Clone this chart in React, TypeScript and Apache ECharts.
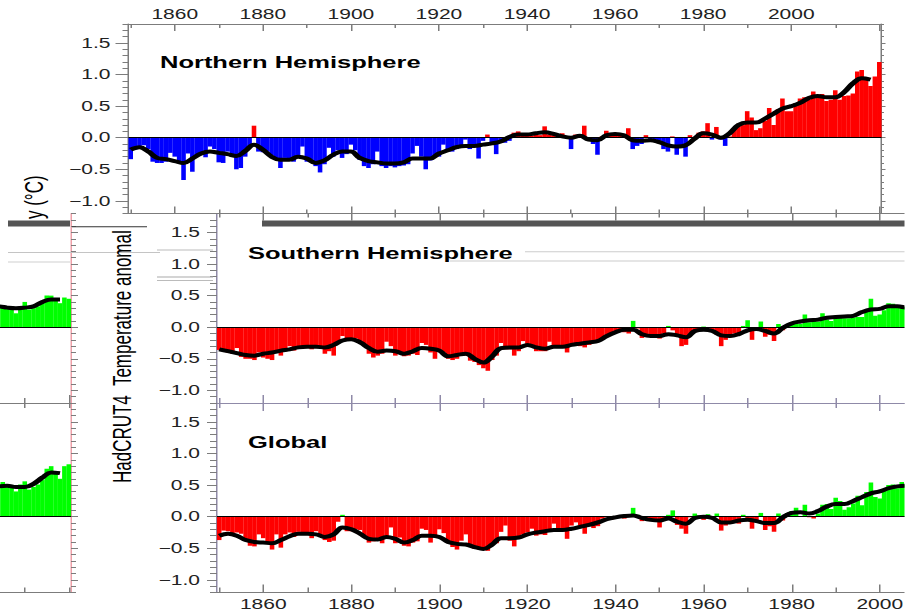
import React, { useEffect, useRef } from "react";
import * as echarts from "echarts";

// ---------- data ----------
const FIRST_YEAR = 1850;
const LAST_YEAR = 2020;
const YEARS: number[] = Array.from({ length: LAST_YEAR - FIRST_YEAR + 1 }, (_, i) => FIRST_YEAR + i);
const SMOOTH_YEARS: number[] = Array.from({ length: 85 }, (_, i) => FIRST_YEAR + 2 * i);

const NH: number[] = [
  -0.34, -0.19, -0.17, -0.12, -0.18, -0.38, -0.40, -0.40, -0.38, -0.24,
  -0.30, -0.40, -0.67, -0.25, -0.54, -0.30, -0.25, -0.31, -0.14, -0.18,
  -0.39, -0.40, -0.22, -0.30, -0.50, -0.48, -0.30, -0.13, 0.19, -0.22,
  -0.23, -0.22, -0.28, -0.35, -0.48, -0.32, -0.33, -0.38, -0.28, -0.14,
  -0.38, -0.35, -0.45, -0.55, -0.42, -0.16, -0.30, -0.20, -0.32, -0.26,
  -0.11, -0.20, -0.35, -0.45, -0.48, -0.42, -0.22, -0.45, -0.48, -0.45,
  -0.47, -0.45, -0.44, -0.42, -0.25, -0.13, -0.30, -0.50, -0.36, -0.30,
  -0.30, -0.11, -0.22, -0.22, -0.18, -0.12, -0.03, -0.18, -0.12, -0.33,
  -0.05, 0.05, -0.10, -0.26, -0.08, -0.08, -0.05, 0.08, 0.10, 0.03,
  0.04, 0.03, 0.05, 0.04, 0.18, 0.05, 0.04, 0.05, 0.07, 0.00,
  -0.18, 0.05, 0.03, 0.19, -0.05, -0.10, -0.27, 0.02, 0.11, 0.05,
  0.04, 0.06, 0.05, 0.15, -0.18, -0.13, -0.10, 0.04, -0.05, -0.03,
  -0.05, -0.18, -0.22, 0.02, -0.27, -0.12, -0.30, 0.04, 0.00, 0.08,
  0.10, 0.23, -0.03, 0.17, -0.03, -0.13, 0.02, 0.15, 0.22, 0.20,
  0.42, 0.32, 0.12, 0.15, 0.27, 0.47, 0.20, 0.45, 0.62, 0.42,
  0.42, 0.55, 0.62, 0.64, 0.60, 0.73, 0.68, 0.69, 0.58, 0.60,
  0.75, 0.60, 0.66, 0.67, 0.70, 1.05, 1.07, 0.93, 0.82, 0.97,
  1.20,
];

const SH: number[] = [
  -0.36, -0.38, -0.40, -0.42, -0.33, -0.47, -0.50, -0.50, -0.52, -0.40,
  -0.48, -0.50, -0.52, -0.38, -0.45, -0.38, -0.30, -0.37, -0.30, -0.33,
  -0.30, -0.35, -0.30, -0.33, -0.42, -0.38, -0.45, -0.22, -0.14, -0.18,
  -0.20, -0.18, -0.22, -0.30, -0.42, -0.48, -0.45, -0.42, -0.23, -0.30,
  -0.45, -0.38, -0.46, -0.45, -0.42, -0.44, -0.25, -0.28, -0.40, -0.50,
  -0.38, -0.40, -0.50, -0.52, -0.50, -0.41, -0.45, -0.53, -0.55, -0.60,
  -0.65, -0.69, -0.52, -0.45, -0.25, -0.35, -0.35, -0.45, -0.38, -0.22,
  -0.30, -0.28, -0.38, -0.38, -0.38, -0.23, -0.30, -0.33, -0.32, -0.40,
  -0.28, -0.26, -0.30, -0.32, -0.28, -0.24, -0.22, -0.18, -0.14, -0.10,
  -0.06, -0.04, -0.08, -0.10, 0.10, -0.02, -0.17, -0.12, -0.12, -0.12,
  -0.18, -0.10, 0.02, -0.05, -0.15, -0.30, -0.28, -0.12, -0.08, -0.05,
  0.01, -0.02, -0.06, -0.12, -0.30, -0.20, -0.16, -0.10, -0.12, 0.02,
  0.11, -0.20, -0.05, 0.09, -0.15, -0.12, -0.22, 0.05, -0.05, 0.04,
  0.07, 0.06, 0.05, 0.20, 0.08, 0.10, 0.09, 0.22, 0.12, 0.10,
  0.17, 0.17, 0.14, 0.14, 0.15, 0.16, 0.16, 0.26, 0.45, 0.18,
  0.20, 0.27, 0.38, 0.37, 0.33, 0.33, 0.32, 0.33, 0.22, 0.30,
  0.40, 0.28, 0.30, 0.33, 0.40, 0.50, 0.50, 0.42, 0.38, 0.47,
  0.45,
];

const GL: number[] = [
  -0.37, -0.22, -0.23, -0.27, -0.25, -0.27, -0.36, -0.46, -0.47, -0.28,
  -0.34, -0.41, -0.52, -0.28, -0.49, -0.28, -0.25, -0.32, -0.24, -0.26,
  -0.28, -0.34, -0.23, -0.30, -0.37, -0.40, -0.38, -0.08, 0.03, -0.23,
  -0.23, -0.20, -0.21, -0.30, -0.41, -0.39, -0.37, -0.42, -0.31, -0.17,
  -0.42, -0.33, -0.46, -0.47, -0.41, -0.39, -0.19, -0.21, -0.41, -0.29,
  -0.20, -0.26, -0.40, -0.48, -0.52, -0.38, -0.28, -0.47, -0.51, -0.52,
  -0.49, -0.54, -0.44, -0.42, -0.24, -0.14, -0.38, -0.47, -0.33, -0.28,
  -0.25, -0.19, -0.30, -0.28, -0.29, -0.22, -0.11, -0.21, -0.21, -0.35,
  -0.14, -0.09, -0.14, -0.27, -0.13, -0.18, -0.15, -0.03, -0.01, -0.05,
  0.01, 0.02, -0.03, 0.00, 0.14, 0.03, -0.07, -0.04, -0.04, -0.07,
  -0.17, -0.05, 0.03, 0.10, -0.13, -0.19, -0.27, -0.01, 0.05, 0.02,
  -0.05, 0.04, 0.01, 0.05, -0.22, -0.14, -0.07, -0.07, -0.11, 0.03,
  -0.03, -0.19, -0.07, 0.06, -0.21, -0.15, -0.24, 0.05, -0.06, 0.06,
  0.09, 0.14, 0.01, 0.19, -0.01, -0.03, 0.05, 0.19, 0.20, 0.12,
  0.30, 0.25, 0.11, 0.15, 0.21, 0.33, 0.18, 0.39, 0.54, 0.31,
  0.29, 0.44, 0.50, 0.51, 0.45, 0.55, 0.51, 0.49, 0.40, 0.51,
  0.56, 0.43, 0.47, 0.51, 0.58, 0.76, 0.80, 0.68, 0.60, 0.80,
  0.83,
];

const NH_SMOOTH: number[] = [
  -0.19, -0.15, -0.22, -0.32, -0.34,
  -0.37, -0.40, -0.33, -0.25, -0.22,
  -0.24, -0.26, -0.29, -0.21, -0.11,
  -0.19, -0.30, -0.35, -0.35, -0.30,
  -0.33, -0.40, -0.36, -0.27, -0.22,
  -0.22, -0.32, -0.37, -0.39, -0.41,
  -0.41, -0.39, -0.33, -0.33, -0.33,
  -0.25, -0.20, -0.15, -0.13, -0.13,
  -0.11, -0.09, -0.06, 0.01, 0.05,
  0.05, 0.07, 0.085, 0.06, 0.02,
  0.0, 0.03, -0.03, -0.04, 0.04,
  0.06, 0.04, -0.04, -0.05, -0.04,
  -0.07, -0.12, -0.14, -0.12, -0.02,
  0.07, 0.05, 0.0, 0.07, 0.2,
  0.24, 0.24, 0.3, 0.38, 0.46,
  0.5, 0.55, 0.63, 0.66, 0.64,
  0.64, 0.72, 0.86, 0.94, 0.92,
];

const SH_SMOOTH: number[] = [
  -0.35, -0.38, -0.41, -0.44, -0.45,
  -0.42, -0.40, -0.37, -0.35, -0.32,
  -0.31, -0.31, -0.32, -0.28, -0.21,
  -0.19, -0.24, -0.33, -0.39, -0.37,
  -0.38, -0.42, -0.38, -0.33, -0.34,
  -0.37, -0.46, -0.44, -0.42, -0.50,
  -0.56, -0.46, -0.33, -0.32, -0.32,
  -0.28, -0.32, -0.34, -0.31, -0.31,
  -0.28, -0.26, -0.24, -0.22, -0.14,
  -0.08, -0.04, -0.04, -0.11, -0.14,
  -0.14, -0.11, -0.13, -0.16, -0.06,
  -0.04, -0.06, -0.13, -0.14, -0.11,
  -0.05, -0.03, -0.06, -0.10, -0.01,
  0.06, 0.09, 0.11, 0.12, 0.15,
  0.16, 0.17, 0.18, 0.24, 0.28,
  0.29, 0.33, 0.33, 0.31, 0.30,
  0.31, 0.33, 0.40, 0.44, 0.44,
];

const GL_SMOOTH: number[] = [
  -0.30, -0.27, -0.30, -0.37, -0.40,
  -0.41, -0.42, -0.37, -0.31, -0.27,
  -0.27, -0.28, -0.32, -0.28, -0.17,
  -0.20, -0.27, -0.35, -0.36, -0.32,
  -0.35, -0.41, -0.37, -0.30, -0.30,
  -0.32, -0.40, -0.43, -0.44, -0.48,
  -0.51, -0.44, -0.34, -0.34, -0.33,
  -0.28, -0.25, -0.23, -0.21, -0.21,
  -0.19, -0.16, -0.13, -0.09, -0.04,
  -0.01, 0.01, 0.02, -0.02, -0.05,
  -0.06, -0.03, -0.08, -0.11, -0.02,
  0.00, -0.02, -0.09, -0.09, -0.06,
  -0.05, -0.07, -0.10, -0.10, -0.01,
  0.06, 0.07, 0.05, 0.09, 0.16,
  0.20, 0.20, 0.25, 0.31, 0.37,
  0.40, 0.45, 0.48, 0.49, 0.47,
  0.47, 0.52, 0.62, 0.70, 0.69,
];

const X_LABELS: number[] = [1860, 1880, 1900, 1920, 1940, 1960, 1980, 2000];
const X_MAJOR: number[] = [1860, 1880, 1900, 1920, 1940, 1960, 1980, 2000, 2020];
const X_MINOR: number[] = [1850, 1870, 1890, 1910, 1930, 1950, 1970, 1990, 2010];
const Y_MAJOR: number[] = [-1.0, -0.5, 0.0, 0.5, 1.0, 1.5];

const TITLES = ["Northern Hemisphere", "Southern Hemisphere", "Global"];
const Y_NAME_LOWER = "HadCRUT4  Temperature anomal";
const Y_NAME_UPPER = "y (°C)";

// ---------- layout / style ----------
const SX = 1.5; // horizontal stretch of the whole figure
const W = 905 / SX;
const H = 616;
const X_MIN = 1849.5;
const X_MAX = 2020.5;
const Y_MIN = -1.2;
const Y_MAX = 1.8;
const FONT = '"Liberation Sans", Arial, Helvetica, sans-serif';
const AX = "#7c7c7c";
const AX2 = "#8f8aa8";
const PINK = "#eea0a8";
const PW = 502; // plot width (pre-stretch)
const PH = 189.5;

type AnyObj = Record<string, any>;

function xAx(gridIndex: number, position: string, ticks: number[], length: number, line: boolean, color: string, label?: AnyObj): AnyObj {
  return {
    type: "value",
    gridIndex,
    position,
    min: X_MIN,
    max: X_MAX,
    axisLine: { show: line, onZero: false, lineStyle: { color, width: 1 } },
    axisTick: { show: true, inside: true, length, customValues: ticks, lineStyle: { color, width: 1 } },
    axisLabel: label
      ? {
          show: true,
          customValues: X_LABELS,
          fontFamily: FONT,
          fontSize: 14,
          color: "#222",
          formatter: (v: number) => String(Math.round(v)),
          ...label,
        }
      : { show: false },
    splitLine: { show: false },
  };
}

function yAx(gridIndex: number, position: string, major: boolean, length: number, line: boolean, color: string, labelMargin?: number): AnyObj {
  const o: AnyObj = {
    type: "value",
    gridIndex,
    position,
    min: Y_MIN,
    max: Y_MAX,
    splitLine: { show: false },
    axisLine: { show: line, onZero: false, lineStyle: { color: line ? color : AX, width: 1 } },
  };
  if (major) {
    o.axisTick = { show: true, inside: false, length, customValues: Y_MAJOR, lineStyle: { color: AX, width: 1 } };
  } else {
    o.interval = 0.1;
    o.axisTick = { show: true, inside: false, length, lineStyle: { color: AX, width: 1 } };
  }
  o.axisLabel =
    labelMargin !== undefined
      ? {
          show: true,
          customValues: Y_MAJOR,
          margin: labelMargin,
          fontFamily: FONT,
          fontSize: 14,
          color: "#222",
          formatter: (v: number) => (v < -0.001 ? "\u2212" : "") + Math.abs(v).toFixed(1),
        }
      : { show: false };
  return o;
}

function barSeries(xi: number, yi: number, vals: number[], pos: string, neg: string): AnyObj {
  return {
    type: "bar",
    xAxisIndex: xi,
    yAxisIndex: yi,
    barWidth: 3.05,
    data: YEARS.map((y, i) => [y, vals[i]]),
    itemStyle: { color: (p: any) => (p.value[1] >= 0 ? pos : neg) },
    markLine: {
      silent: true,
      symbol: ["none", "none"],
      label: { show: false },
      lineStyle: { color: "#000", width: 1, type: "solid" },
      data: [{ yAxis: 0 }],
      z: 4,
    },
    z: 2,
  };
}

function lineSeries(xi: number, yi: number, vals: number[]): AnyObj {
  return {
    type: "line",
    xAxisIndex: xi,
    yAxisIndex: yi,
    data: SMOOTH_YEARS.map((y, i) => [y, vals[i]]),
    smooth: 0.4,
    symbol: "none",
    showSymbol: false,
    lineStyle: { color: "#000", width: 4 },
    z: 6,
  };
}

function buildOption(): AnyObj {
  const grid = [
    { left: 128.5 / SX, top: 24, width: PW, height: PH },
    { left: 217 / SX, top: 213.5, width: PW, height: PH },
    { left: 71 / SX - PW, top: 213.5, width: PW, height: PH },
    { left: 217 / SX, top: 403, width: PW, height: PH },
    { left: 71 / SX - PW, top: 403, width: PW, height: PH },
  ].map((g) => ({ ...g, containLabel: false, outerBoundsMode: "none", show: false }));

  const xAxis: AnyObj[] = [];
  const yAxis: AnyObj[] = [];
  const series: AnyObj[] = [];
  const addX = (a: AnyObj) => xAxis.push(a) - 1;
  const addY = (a: AnyObj) => yAxis.push(a) - 1;

  // Northern Hemisphere (grid 0)
  const nx = addX(xAx(0, "top", X_MAJOR, 7, true, AX, { margin: 3 }));
  addX(xAx(0, "top", X_MINOR, 4, false, AX));
  addX(xAx(0, "bottom", X_MAJOR, 7, true, AX));
  addX(xAx(0, "bottom", X_MINOR, 4, false, AX));
  const ny = addY(yAx(0, "left", true, 13 / SX, true, AX, 18 / SX));
  addY(yAx(0, "left", false, 6 / SX, false, AX));
  addY(yAx(0, "right", true, 4 / SX, true, AX));
  addY(yAx(0, "right", false, 2.5 / SX, false, AX));
  series.push(barSeries(nx, ny, NH, "#ff0000", "#0000ff"));
  series.push(lineSeries(nx, ny, NH_SMOOTH));

  // Southern Hemisphere (grid 1) and its wrapped copy (grid 2)
  const sx = addX(xAx(1, "top", X_MAJOR, 7, true, AX));
  addX(xAx(1, "top", X_MINOR, 4, false, AX));
  addX(xAx(1, "bottom", X_MAJOR, 8, true, AX2));
  addX(xAx(1, "bottom", X_MINOR, 5, false, AX2));
  const sy = addY(yAx(1, "left", true, 10 / SX, true, AX2, 17 / SX));
  addY(yAx(1, "left", false, 7 / SX, false, AX));
  series.push(barSeries(sx, sy, SH, "#00ff00", "#ff0000"));
  series.push(lineSeries(sx, sy, SH_SMOOTH));

  const scx = addX(xAx(2, "bottom", X_MAJOR, 8, true, AX));
  addX(xAx(2, "bottom", X_MINOR, 5, false, AX));
  const scy = addY(yAx(2, "right", true, 7 / SX, true, PINK));
  addY(yAx(2, "right", false, 5 / SX, false, AX));
  series.push(barSeries(scx, scy, SH, "#00ff00", "#ff0000"));
  series.push(lineSeries(scx, scy, SH_SMOOTH));

  // Global (grid 3) and its wrapped copy (grid 4)
  const gx = addX(xAx(3, "bottom", X_MAJOR, 8, true, AX, { margin: 5 }));
  addX(xAx(3, "bottom", X_MINOR, 5, false, AX));
  addX(xAx(3, "top", X_MAJOR, 8, true, AX2));
  addX(xAx(3, "top", X_MINOR, 5, false, AX2));
  const gy = addY(yAx(3, "left", true, 10 / SX, true, AX2, 17 / SX));
  addY(yAx(3, "left", false, 7 / SX, false, AX));
  series.push(barSeries(gx, gy, GL, "#00ff00", "#ff0000"));
  series.push(lineSeries(gx, gy, GL_SMOOTH));

  const gcx = addX(xAx(4, "bottom", X_MAJOR, 5, true, AX));
  addX(xAx(4, "bottom", X_MINOR, 5, false, AX));
  addX(xAx(4, "top", X_MAJOR, 5, true, AX));
  addX(xAx(4, "top", X_MINOR, 5, false, AX));
  const gcy = addY(yAx(4, "right", true, 7 / SX, true, PINK));
  addY(yAx(4, "right", false, 5 / SX, false, AX));
  series.push(barSeries(gcx, gcy, GL, "#00ff00", "#ff0000"));
  series.push(lineSeries(gcx, gcy, GL_SMOOTH));

  const titleFont = `bold 17px ${FONT}`;
  const nameFont = `17px ${FONT}`;
  const hline = (x1: number, x2: number, y: number, stroke: string) => ({
    type: "line",
    shape: { x1: x1 / SX, y1: y, x2: x2 / SX, y2: y },
    style: { stroke, lineWidth: 1 },
    z: 90,
  });

  const graphic: AnyObj[] = [
    { type: "text", x: 160 / SX, y: 62.5, z: 100, style: { text: TITLES[0], font: titleFont, fill: "#000", verticalAlign: "middle", textVerticalAlign: "middle" } },
    { type: "text", x: 248 / SX, y: 252.7, z: 100, style: { text: TITLES[1], font: titleFont, fill: "#000", verticalAlign: "middle", textVerticalAlign: "middle" } },
    { type: "text", x: 248 / SX, y: 442.3, z: 100, style: { text: TITLES[2], font: titleFont, fill: "#000", verticalAlign: "middle", textVerticalAlign: "middle" } },
    { type: "text", x: 122 / SX, y: 483, rotation: Math.PI / 2, z: 100, style: { text: Y_NAME_LOWER, font: nameFont, fill: "#000", align: "left", textAlign: "left", verticalAlign: "middle", textVerticalAlign: "middle" } },
    { type: "text", x: 34 / SX, y: 219, rotation: Math.PI / 2, z: 100, style: { text: Y_NAME_UPPER, font: nameFont, fill: "#000", align: "left", textAlign: "left", verticalAlign: "middle", textVerticalAlign: "middle" } },
    // glitch band and stray lines
    { type: "rect", z: 95, shape: { x: 8 / SX, y: 220.5, width: 62 / SX, height: 6 }, style: { fill: "#555" } },
    { type: "rect", z: 95, shape: { x: 262 / SX, y: 220.5, width: (905 - 262) / SX, height: 6 }, style: { fill: "#555" } },
    hline(72, 147, 226.8, "#333"),
    hline(8, 160, 252.5, "#c4c4c4"),
    hline(8, 70, 262, "#d0d0d0"),
    hline(157, 213, 250, "#bbbbbb"),
    hline(157, 213, 277, "#aaaaaa"),
    hline(157, 213, 280.5, "#bbbbbb"),
    hline(525, 905, 251.7, "#cccccc"),
    hline(450, 905, 261, "#cccccc"),
  ];

  return {
    animation: false,
    backgroundColor: "#ffffff",
    grid,
    xAxis,
    yAxis,
    series,
    graphic,
  };
}

export default function App() {
  const ref = useRef<HTMLDivElement>(null);
  useEffect(() => {
    document.body.style.margin = "0";
    if (!ref.current) return;
    const chart = echarts.init(ref.current, null, { renderer: "svg" });
    chart.setOption(buildOption());
    return () => chart.dispose();
  }, []);
  return (
    <div style={{ width: 905, height: H, overflow: "hidden", background: "#fff" }}>
      <div
        ref={ref}
        style={{ width: W, height: H, transform: `scaleX(${SX})`, transformOrigin: "0 0" }}
      />
    </div>
  );
}
